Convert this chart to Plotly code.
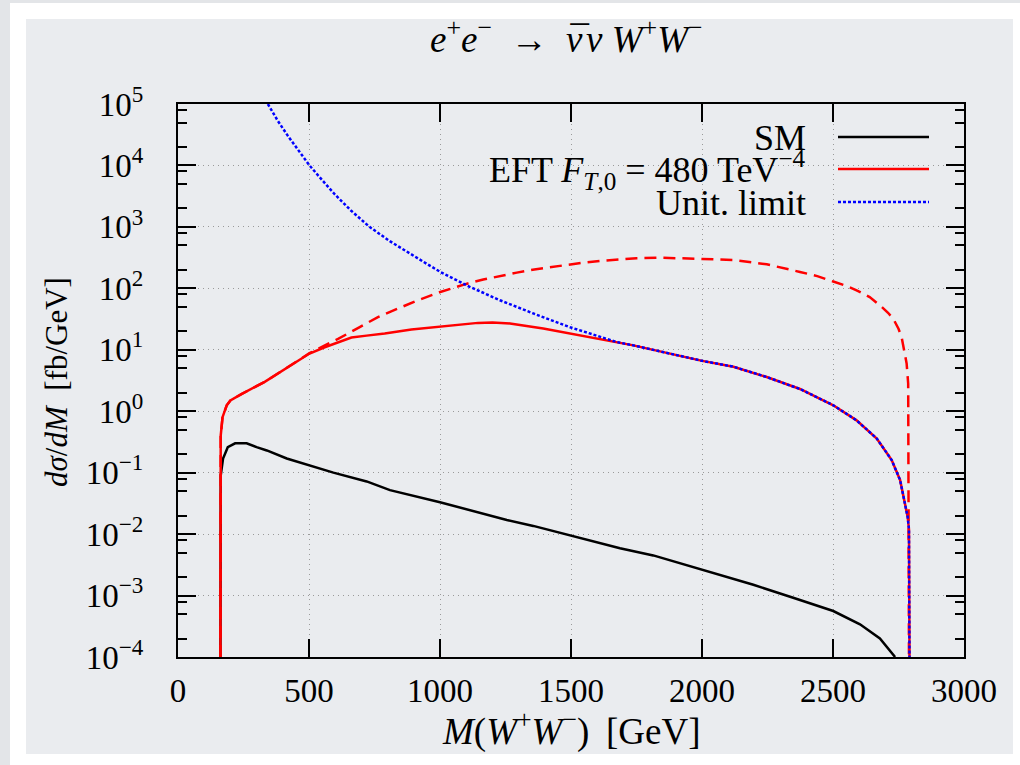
import plotly.graph_objects as go

# ---------------- data ----------------
sm_M = [162, 163, 172, 190, 218, 262, 300, 339, 415, 497, 593, 720, 809, 1000, 1127,
        1255, 1356, 1503, 1636, 1687, 1814, 2001, 2196, 2348, 2501, 2603, 2679, 2737]
sm_v = [1e-4, 0.09, 0.17, 0.26, 0.30, 0.30, 0.26, 0.23, 0.17, 0.133, 0.10, 0.072, 0.052,
        0.033, 0.024, 0.017, 0.0136, 0.0095, 0.0067, 0.0059, 0.0045, 0.0026, 0.0015,
        9.2e-4, 5.6e-4, 3.4e-4, 2.0e-4, 1e-4]

eft_M = [162, 163, 170, 186, 200, 242, 331, 420, 502, 560, 620, 662, 720, 789, 891, 1001,
         1145, 1200, 1267, 1394, 1500, 1611, 1738, 1865, 2001, 2120, 2247, 2374, 2501,
         2590, 2667, 2724, 2756, 2785, 2790, 2792]
eft_v = [1e-4, 0.4, 0.8, 1.25, 1.5, 1.9, 3.0, 5.3, 8.7, 11, 13.8, 15.8, 17.0, 18.4, 21.4,
         24, 27.4, 27.7, 26.8, 22.2, 18.4, 15.2, 11.8, 8.9, 6.6, 5.3, 3.6, 2.3, 1.25,
         0.71, 0.36, 0.16, 0.076, 0.019, 0.012, 1e-4]

nounit_M = [162, 163, 170, 186, 200, 242, 331, 420, 502, 555, 611, 690, 763, 840, 916,
            1001, 1038, 1100, 1165, 1230, 1293, 1360, 1420, 1480, 1547, 1610, 1674, 1750,
            1827, 1910, 2001, 2120, 2247, 2374, 2440, 2501, 2550, 2590, 2640, 2679, 2710,
            2730, 2750, 2762, 2772, 2781, 2787, 2790]
nounit_v = [1e-4, 0.4, 0.8, 1.25, 1.5, 1.9, 3.0, 5.3, 8.8, 11.5, 15, 23, 34, 47, 64,
            87, 98, 118, 139, 160, 180, 203, 222, 242, 262, 280, 295, 308,
            316, 312, 301, 288, 246, 185, 158, 129, 110, 93, 72, 53, 40,
            32, 22, 16, 10, 6, 2.8, 1e-4]

unit_M = [343, 380, 420, 460, 502, 550, 598, 660, 731, 810, 891, 950, 1001, 1038, 1115,
          1229, 1356, 1500, 1674, 1738, 1865, 2001, 2120, 2247, 2374, 2501, 2590, 2667,
          2724, 2756, 2785, 2790, 2792]
unit_v = [1e5, 5.4e4, 3.0e4, 1.75e4, 1e4, 5.8e3, 3.4e3, 1.85e3, 1000, 580, 350, 250, 185,
          154, 105, 64, 39, 23, 13.4, 11.8, 8.9, 6.6, 5.3, 3.6, 2.3, 1.25, 0.71, 0.36,
          0.16, 0.076, 0.019, 0.012, 1e-4]

x_ticks = [0, 500, 1000, 1500, 2000, 2500, 3000]
y_exps = [-4, -3, -2, -1, 0, 1, 2, 3, 4, 5]
y_ticks = [10.0 ** e for e in y_exps]
y_ticktext = ["10<sup>%s</sup>" % (str(e).replace("-", "\u2212")) for e in y_exps]
y_minor = [k * 10.0 ** e for e in range(-4, 5) for k in (2, 5, 8)]

legend_labels = ["SM", "EFT <i>F</i><sub><i>T</i>,0</sub> = 480 TeV<sup>\u22124</sup>",
                 "Unit. limit"]

# ---------------- layout geometry ----------------
W, H = 1020, 765
L, R, T, B = 178, 964, 104, 657   # plot area in pixels


def px(x):
    return (x - L) / (R - L)


def py(y):
    return (B - y) / (B - T)


FONT = "Liberation Serif, Times New Roman, serif"
FS_TICK = 33
FS_LEG = 36
FS_TITLE = 37

fig = go.Figure()
fig.add_trace(go.Scatter(x=sm_M, y=sm_v, mode="lines", name="SM",
                         line=dict(color="black", width=2.5)))
fig.add_trace(go.Scatter(x=nounit_M, y=nounit_v, mode="lines", name="EFT (no unit.)",
                         line=dict(color="#ff0000", width=2.5, dash="12px,7px")))
fig.add_trace(go.Scatter(x=eft_M, y=eft_v, mode="lines", name="EFT",
                         line=dict(color="#ff0000", width=2.5)))
fig.add_trace(go.Scatter(x=unit_M, y=unit_v, mode="lines", name="Unit. limit",
                         line=dict(color="#0000ff", width=2.5, dash="3px,2px")))

shapes = [
    dict(type="rect", xref="paper", yref="paper", x0=px(0), x1=px(W), y0=py(H), y1=py(0),
         fillcolor="#e3e5e8", line=dict(width=0), layer="below"),
    dict(type="rect", xref="paper", yref="paper", x0=px(10), x1=px(W), y0=py(H), y1=py(3),
         fillcolor="#ffffff", line=dict(width=0), layer="below"),
    dict(type="rect", xref="paper", yref="paper", x0=px(26), x1=px(1013), y0=py(754), y1=py(19),
         fillcolor="#eaecef", line=dict(width=0), layer="below"),
]

leg_y = [137, 169, 202]
leg_styles = [dict(color="black", width=2.5),
              dict(color="#ff0000", width=2.5),
              dict(color="#0000ff", width=2.5, dash="3px,2px")]
annotations = []
for lab, yy, st in zip(legend_labels, leg_y, leg_styles):
    shapes.append(dict(type="line", xref="paper", yref="paper", x0=px(838), x1=px(929),
                       y0=py(yy), y1=py(yy), line=st, layer="above"))
    annotations.append(dict(text=lab, xref="paper", yref="paper", x=px(808), y=py(yy + 1),
                            xanchor="right", yanchor="middle", showarrow=False,
                            font=dict(family=FONT, size=FS_LEG, color="black")))

annotations.append(dict(text="<i>M</i>(<i>W</i><sup>+</sup><i>W</i><sup>\u2212</sup>)\u2009 [GeV]",
                        xref="paper", yref="paper", x=px(571), y=py(729), xanchor="center",
                        yanchor="middle", showarrow=False,
                        font=dict(family=FONT, size=FS_TITLE, color="black")))
annotations.append(dict(text="<i>d\u03c3</i>/<i>dM</i>  [fb/GeV]",
                        xref="paper", yref="paper", x=px(56), y=py(382), xanchor="center",
                        yanchor="middle", showarrow=False, textangle=-90,
                        font=dict(family=FONT, size=31, color="black")))
annotations.append(dict(text="<i>e</i><sup>+</sup><i>e</i><sup>\u2212</sup>  \u2192  "
                             "<i><span style=\"letter-spacing:-15px\">\u03bd</span>"
                             "<span style=\"letter-spacing:0px\">\u00af</span>\u03bd W</i>"
                             "<sup>+</sup><i>W</i><sup>\u2212</sup>",
                        xref="paper", yref="paper", x=px(566), y=py(37), xanchor="center",
                        yanchor="middle", showarrow=False,
                        font=dict(family=FONT, size=FS_TITLE, color="black")))

grid = dict(showgrid=True, gridcolor="#9a9a9a", gridwidth=1, griddash="1px,4px")

fig.update_layout(
    width=W, height=H,
    margin=dict(l=L, r=W - R, t=T, b=H - B, pad=0),
    paper_bgcolor="#ffffff",
    plot_bgcolor="rgba(0,0,0,0)",
    showlegend=False,
    shapes=shapes,
    annotations=annotations,
    font=dict(family=FONT, size=FS_TICK, color="black"),
    xaxis=dict(range=[0, 3000], tickmode="array", tickvals=x_ticks,
               ticks="inside", ticklen=18, tickwidth=1.8, tickcolor="black",
               showline=True, linecolor="black", linewidth=2, mirror="ticks",
               zeroline=False, ticklabelstandoff=3,
               tickfont=dict(family=FONT, size=FS_TICK, color="black"), **grid),
    yaxis=dict(type="log", range=[-4, 5], tickmode="array", tickvals=y_ticks,
               ticktext=y_ticktext,
               ticks="inside", ticklen=18, tickwidth=1.8, tickcolor="black",
               showline=True, linecolor="black", linewidth=2, mirror="ticks",
               zeroline=False, ticklabelstandoff=26,
               minor=dict(tickmode="array", tickvals=y_minor, ticks="inside", ticklen=9,
                          tickwidth=1.5, tickcolor="black", showgrid=False),
               tickfont=dict(family=FONT, size=FS_TICK, color="black"), **grid),
)

fig.write_html("out.html", config={"displayModeBar": False},
               post_script="document.body.style.margin='0px';")
